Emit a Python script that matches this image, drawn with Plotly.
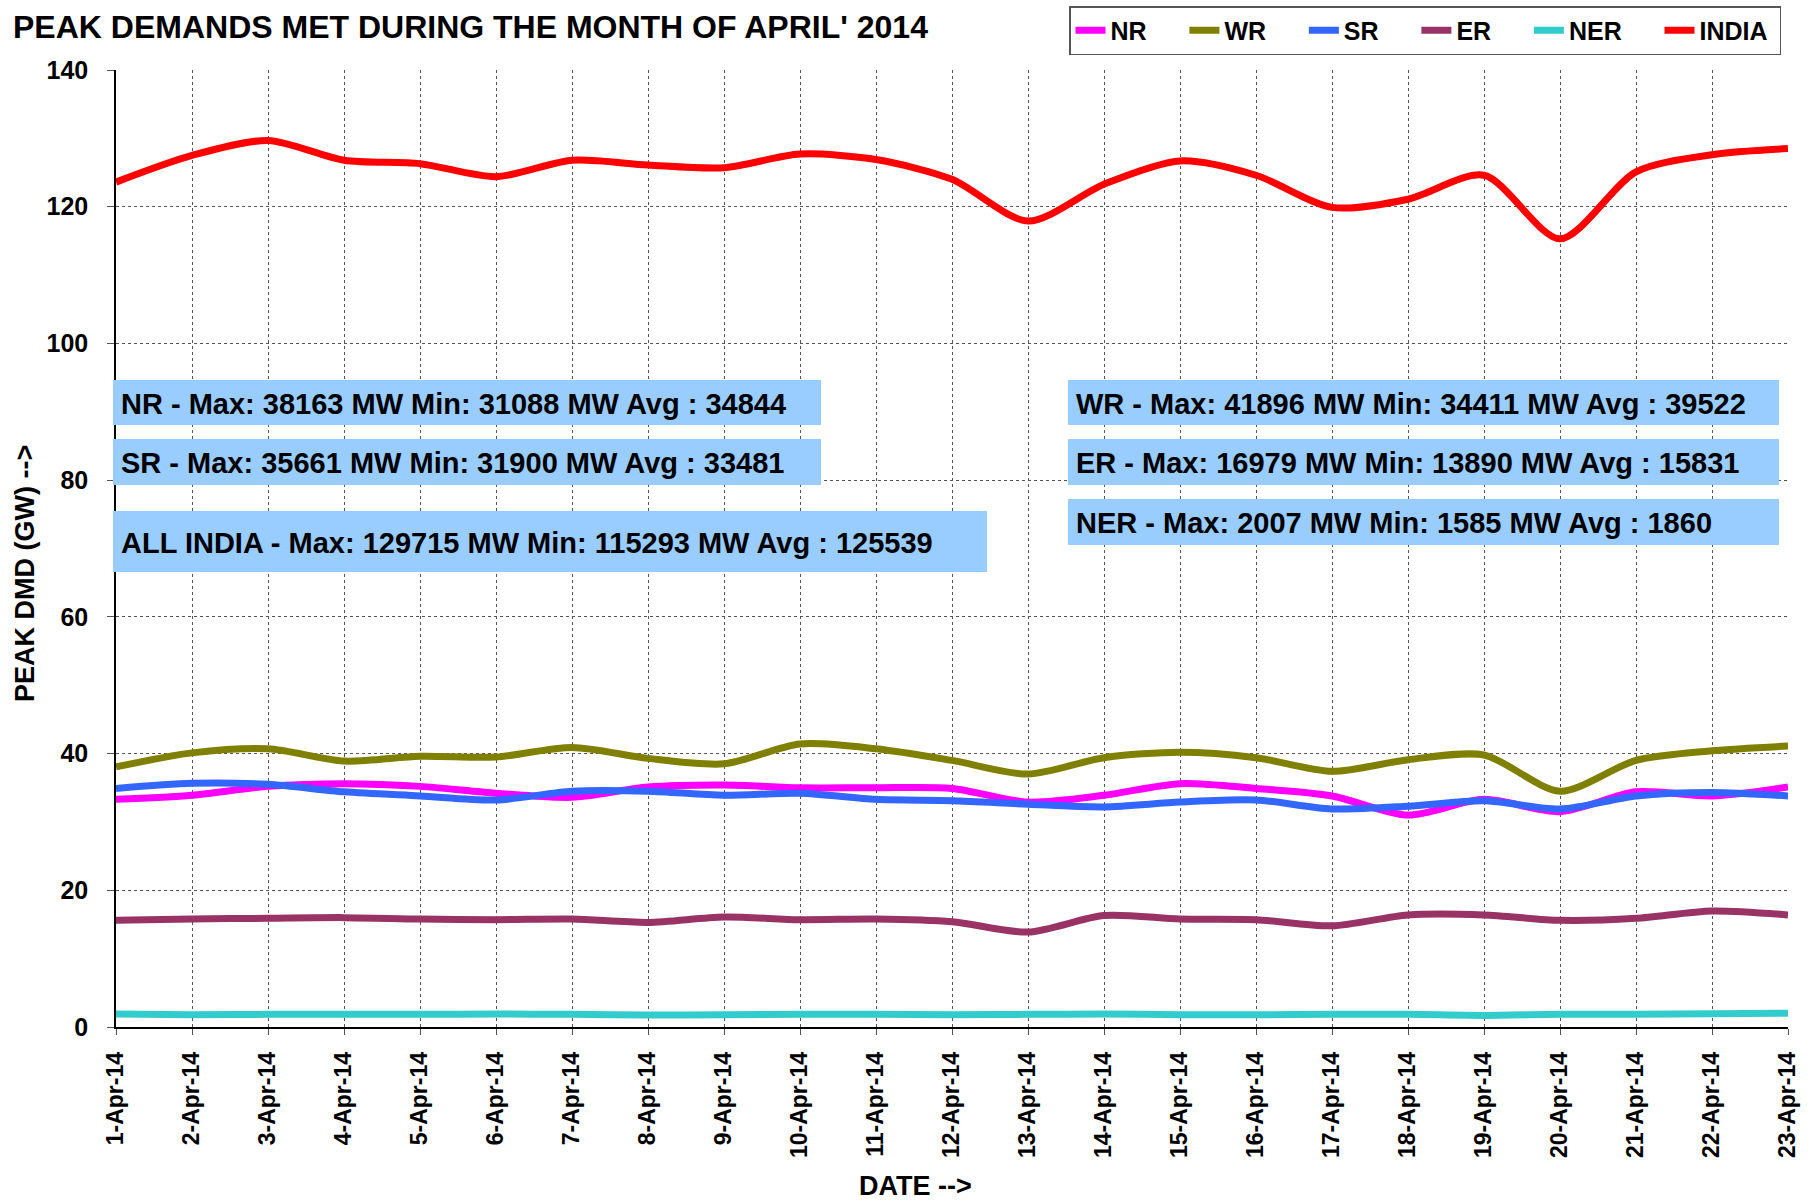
import plotly.graph_objects as go

dates = [f"{d}-Apr-14" for d in range(1, 24)]

NR = [33.3, 33.9, 35.2, 35.6, 35.2, 34.2, 33.6, 35.1, 35.4, 35.0, 35.0, 34.9, 32.9, 33.9, 35.6, 34.9,
      33.8, 31.0, 33.3, 31.5, 34.4, 33.8, 35.1]
WR = [38.05, 40.1, 40.7, 38.9, 39.6, 39.5, 40.9, 39.3, 38.5, 41.4, 40.7, 39.0, 37.0, 39.4, 40.2, 39.4,
      37.4, 39.1, 39.8, 34.5, 39.0, 40.4, 41.1]
SR = [34.9, 35.66, 35.5, 34.4, 33.8, 33.2, 34.5, 34.5, 33.9, 34.2, 33.3, 33.1, 32.6, 32.2, 32.9, 33.2,
      31.9, 32.3, 33.1, 31.9, 33.8, 34.3, 33.8]
ER = [15.6, 15.8, 15.9, 16.0, 15.8, 15.7, 15.8, 15.3, 16.1, 15.7, 15.8, 15.4, 13.89, 16.3, 15.8, 15.7,
      14.8, 16.4, 16.4, 15.6, 15.9, 16.98, 16.4]
NER = [1.9, 1.8, 1.85, 1.85, 1.85, 1.9, 1.85, 1.75, 1.8, 1.85, 1.85, 1.8, 1.85, 1.9, 1.8, 1.8,
       1.85, 1.85, 1.7, 1.85, 1.85, 1.95, 2.0]
INDIA = [123.6, 127.5, 129.7, 126.8, 126.3, 124.4, 126.8, 126.1, 125.7, 127.7, 126.9, 124.0, 117.9,
         123.3, 126.7, 124.6, 119.9, 121.1, 124.6, 115.3, 125.1, 127.6, 128.5]

series = [("NR", NR, "#FF00FF"), ("WR", WR, "#808000"), ("SR", SR, "#3366FF"),
          ("ER", ER, "#993366"), ("NER", NER, "#33CCCC"), ("INDIA", INDIA, "#FF0000")]

stats = [
    ("NR - Max: 38163 MW Min: 31088 MW Avg : 34844", "left", 0),
    ("SR - Max: 35661 MW Min: 31900 MW Avg : 33481", "left", 1),
    ("ALL INDIA - Max: 129715 MW Min: 115293 MW Avg : 125539", "left", 2),
    ("WR - Max: 41896 MW Min: 34411 MW Avg : 39522", "right", 0),
    ("ER - Max: 16979 MW Min: 13890 MW Avg : 15831", "right", 1),
    ("NER - Max: 2007 MW Min: 1585 MW Avg : 1860", "right", 2),
]

FONT = "Liberation Sans, Arial, sans-serif"
PAD = "\u00a0" * 4 + "\u2009"

fig = go.Figure()
for i, (name, vals, col) in enumerate(series):
    pad = PAD if i < len(series) - 1 else "\u00a0"
    fig.add_trace(go.Scatter(x=dates, y=vals, name=name + pad, mode="lines",
                             line=dict(color=col, width=7, shape="spline", smoothing=0.8)))

W, H = 1814, 1201
L, R, T, B = 116, 26, 70, 174
pw, ph = W - L - R, H - T - B

def px(x):
    return (x - L) / pw

def py(y):
    return (H - B - y) / ph

left_boxes = [(113, 821, 380, 425), (113, 821, 439, 485), (113, 987, 511, 572)]
right_boxes = [(1068, 1779, 380, 425), (1068, 1779, 439, 485), (1068, 1779, 499, 545)]

shapes = []
annotations = []
for text, side, k in stats:
    x0, x1, y0, y1 = (left_boxes if side == "left" else right_boxes)[k]
    shapes.append(dict(type="rect", xref="paper", yref="paper", x0=px(x0), x1=px(x1),
                       y0=py(y1), y1=py(y0), fillcolor="#99CCFF", line=dict(width=0), layer="above"))
    annotations.append(dict(text=f"<b>{text}</b>", xref="paper", yref="paper",
                            x=px(x0 + 6), y=py((y0 + y1) / 2 + 1), xanchor="left", yanchor="middle",
                            showarrow=False, font=dict(family=FONT, size=29, color="black")))

annotations.append(dict(text="<b>PEAK DEMANDS MET DURING THE MONTH OF APRIL' 2014</b>",
                        xref="paper", yref="paper", x=px(11), y=py(27), xanchor="left",
                        yanchor="middle", showarrow=False,
                        font=dict(family=FONT, size=32, color="black")))
annotations.append(dict(text="<b>PEAK DMD (GW) --></b>", xref="paper", yref="paper",
                        x=px(25), y=py(574), xanchor="center", yanchor="middle", textangle=-90,
                        showarrow=False, font=dict(family=FONT, size=27, color="black")))
annotations.append(dict(text="<b>DATE --></b>", xref="paper", yref="paper",
                        x=px(915), y=py(1186), xanchor="center", yanchor="middle",
                        showarrow=False, font=dict(family=FONT, size=27, color="black")))

fig.update_layout(
    width=W, height=H,
    margin=dict(l=L, r=R, t=T, b=B, autoexpand=False),
    paper_bgcolor="white", plot_bgcolor="white",
    font=dict(family=FONT, color="black"),
    shapes=shapes, annotations=annotations,
    showlegend=True,
    legend=dict(orientation="h", xref="container", yref="container",
                x=1069 / W, y=1 - 6 / H, xanchor="left", yanchor="top",
                bordercolor="#555555", borderwidth=1.5, bgcolor="white",
                font=dict(family=FONT, size=25, color="black", weight="bold"),
                itemwidth=30, tracegroupgap=0),
)
fig.update_xaxes(type="category", range=[0, 22], showgrid=True, gridcolor="#555555",
                 griddash="dot", gridwidth=1, showline=True, linecolor="black", linewidth=1.5,
                 ticks="outside", ticklen=6, tickcolor="#555555", tickangle=-90,
                 ticklabelstandoff=8,
                 tickfont=dict(family=FONT, size=23, color="black", weight="bold"),
                 zeroline=False, mirror=False)
fig.update_yaxes(range=[0, 140], dtick=20, showgrid=True, gridcolor="#555555", griddash="dot",
                 gridwidth=1, showline=True, linecolor="black", linewidth=1.5, ticks="outside",
                 ticklen=7, tickcolor="#555555", ticklabelstandoff=14,
                 tickfont=dict(family=FONT, size=25, color="black", weight="bold"),
                 zeroline=False)

fig.write_html("out.html", config={"displayModeBar": False},
               post_script="document.body.style.margin='0';document.body.style.overflow='hidden';")
